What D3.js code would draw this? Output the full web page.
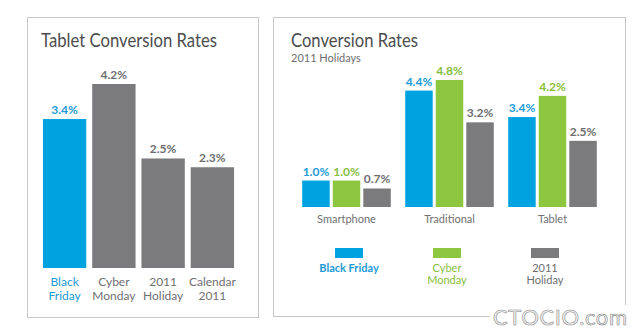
<!DOCTYPE html>
<html>
<head>
<meta charset="utf-8">
<script src="https://cdn.jsdelivr.net/npm/d3@7/dist/d3.min.js"></script>
<style>
  html, body { margin: 0; padding: 0; background: #fff; }
  svg { display: block; }
  text { font-family: Lato, "Open Sans", sans-serif; }
</style>
</head>
<body>
<svg id="chart" width="640" height="334"></svg>
<script>
// Tablet conversion rates by shopping period
const tabletCategories = ["Black Friday", "Cyber Monday", "2011 Holiday", "Calendar 2011"];
const tabletLabels = [["Black", "Friday"], ["Cyber", "Monday"], ["2011", "Holiday"], ["Calendar", "2011"]];
const tabletValues = [3.4, 4.2, 2.5, 2.3];

// Conversion rates by device, 2011 holidays
const devices = ["Smartphone", "Traditional", "Tablet"];
const seriesNames = ["Black Friday", "Cyber Monday", "2011 Holiday"];
const seriesLegendLabels = [["Black Friday"], ["Cyber", "Monday"], ["2011", "Holiday"]];
const blackFridayValues = [1.0, 4.4, 3.4];
const cyberMondayValues = [1.0, 4.8, 4.2];
const holidayValues = [0.7, 3.2, 2.5];

const BLUE = "#00a3e0", GREEN = "#8dc63f", GRAY = "#7b7b7d";
const seriesColors = [BLUE, GREEN, GRAY];
const seriesTextColors = ["#1b9ad6", "#86be3c", "#6e6e70"];
const seriesValues = [blackFridayValues, cyberMondayValues, holidayValues];

const svg = d3.select("#chart");
const fmt = v => d3.format(".1f")(v) + "%";

// ---------- Left panel ----------
const left = svg.append("g");
left.append("rect").attr("x", 27.5).attr("y", 17.5).attr("width", 231).attr("height", 300)
  .attr("fill", "#fff").attr("stroke", "#c8c8c8").attr("stroke-width", 1);
left.append("text").attr("x", 41).attr("y", 47).attr("font-size", 19).attr("fill", "#4d4d4f")
  .attr("textLength", 176).attr("lengthAdjust", "spacingAndGlyphs")
  .text("Tablet Conversion Rates");

const xL = d3.scaleBand().domain(tabletCategories).range([40, 237]).paddingInner(0.12).paddingOuter(0.06);
const yL = d3.scaleLinear().domain([0, 4.2]).range([268, 84]);

left.selectAll("rect.bar").data(tabletValues).join("rect").attr("class", "bar")
  .attr("x", (d, i) => xL(tabletCategories[i])).attr("width", xL.bandwidth())
  .attr("y", d => yL(d)).attr("height", d => yL(0) - yL(d))
  .attr("fill", (d, i) => i === 0 ? BLUE : GRAY);

left.selectAll("text.val").data(tabletValues).join("text").attr("class", "val")
  .attr("x", (d, i) => xL(tabletCategories[i]) + xL.bandwidth() / 2)
  .attr("y", d => yL(d) - 5).attr("text-anchor", "middle").attr("font-size", 12)
  .attr("font-weight", 700)
  .attr("fill", (d, i) => i === 0 ? "#1b9ad6" : "#6e6e70").text(fmt);

tabletLabels.forEach((lines, i) => {
  const t = left.append("text").attr("text-anchor", "middle").attr("font-size", 12)
    .attr("fill", i === 0 ? "#1b9ad6" : "#707072");
  lines.forEach((ln, j) => t.append("tspan")
    .attr("x", xL(tabletCategories[i]) + xL.bandwidth() / 2).attr("y", 286 + j * 13.5).text(ln));
});

// ---------- Right panel ----------
const right = svg.append("g");
right.append("rect").attr("x", 273.5).attr("y", 17.5).attr("width", 352).attr("height", 299)
  .attr("fill", "#fff").attr("stroke", "#c8c8c8").attr("stroke-width", 1);
right.append("text").attr("x", 291).attr("y", 47).attr("font-size", 19).attr("fill", "#4d4d4f")
  .attr("textLength", 127).attr("lengthAdjust", "spacingAndGlyphs")
  .text("Conversion Rates");
right.append("text").attr("x", 291).attr("y", 62).attr("font-size", 11).attr("fill", "#6e6e70")
  .text("2011 Holidays");

const x0 = d3.scaleBand().domain(devices).range([295, 604]).paddingInner(0.14).paddingOuter(0.07);
const x1 = d3.scaleBand().domain(seriesNames).range([0, x0.bandwidth()]).paddingInner(0.1).paddingOuter(0);
const yR = d3.scaleLinear().domain([0, 4.8]).range([207, 80]);

const rows = [];
devices.forEach((dev, gi) => seriesNames.forEach((s, si) =>
  rows.push({ dev, s, si, v: seriesValues[si][gi] })));

right.selectAll("rect.bar").data(rows).join("rect").attr("class", "bar")
  .attr("x", d => x0(d.dev) + x1(d.s)).attr("width", x1.bandwidth())
  .attr("y", d => yR(d.v)).attr("height", d => yR(0) - yR(d.v))
  .attr("fill", d => seriesColors[d.si]);

right.selectAll("text.val").data(rows).join("text").attr("class", "val")
  .attr("x", d => x0(d.dev) + x1(d.s) + x1.bandwidth() / 2)
  .attr("y", d => yR(d.v) - 5).attr("text-anchor", "middle").attr("font-size", 12)
  .attr("font-weight", 700).attr("fill", d => seriesTextColors[d.si]).text(d => fmt(d.v));

right.selectAll("text.cat").data(devices).join("text").attr("class", "cat")
  .attr("x", d => x0(d) + x0.bandwidth() / 2).attr("y", 223).attr("text-anchor", "middle")
  .attr("font-size", 11).attr("fill", "#707072").text(d => d);

// Legend
const xLeg = d3.scaleBand().domain(seriesNames).range([300, 594]);
seriesNames.forEach((s, i) => {
  const cx = xLeg(s) + xLeg.bandwidth() / 2;
  right.append("rect").attr("x", cx - 14).attr("y", 248).attr("width", 28).attr("height", 10)
    .attr("fill", seriesColors[i]);
  const t = right.append("text").attr("text-anchor", "middle").attr("font-size", 11)
    .attr("font-weight", i === 0 ? 700 : 400).attr("fill", seriesTextColors[i]);
  seriesLegendLabels[i].forEach((ln, j) => t.append("tspan").attr("x", cx).attr("y", 272 + j * 11.5).text(ln));
});

// Site mark in the lower right corner
svg.append("rect").attr("x", 490).attr("y", 305).attr("width", 150).attr("height", 29).attr("fill", "#fff");
svg.append("text").attr("x", 493).attr("y", 325).attr("font-family", "'Liberation Serif', serif")
  .attr("font-size", 22).attr("textLength", 134).attr("lengthAdjust", "spacing")
  .attr("fill", "#f2f2f2").attr("stroke", "#8a8a8a").attr("stroke-width", 0.6)
  .text("CTOCIO.com");
</script>
</body>
</html>
